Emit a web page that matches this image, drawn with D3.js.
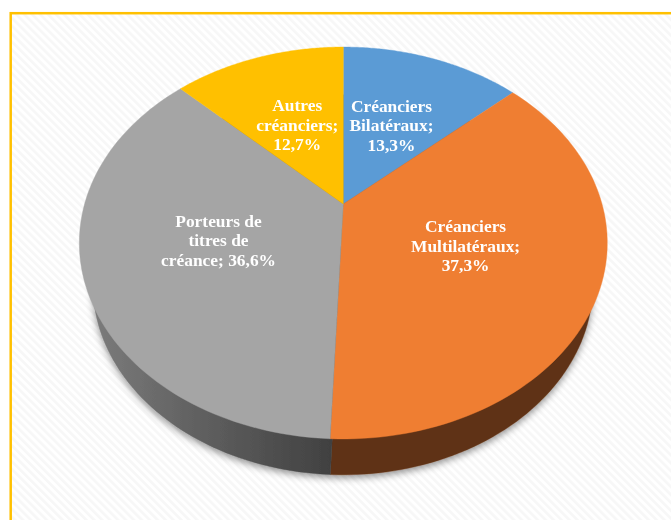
<!DOCTYPE html>
<html><head><meta charset="utf-8">
<script src="https://cdn.jsdelivr.net/npm/d3@7"></script>
<style>html,body{margin:0;padding:0;background:#fff;overflow:hidden}svg{display:block}</style>
</head><body><svg id="c" width="671" height="520"></svg>
<script>
const categories = ["Créanciers Bilatéraux","Créanciers Multilatéraux","Porteurs de titres de créance","Autres créanciers"];
const values = [13.3,37.3,36.6,12.7];
const labelLines = [["Créanciers","Bilatéraux;","13,3%"],["Créanciers","Multilatéraux;","37,3%"],["Porteurs de","titres de","créance; 36,6%"],["Autres","créanciers;","12,7%"]];
const topColors = ["#5b9bd5","#ef7e32","#a5a5a5","#ffc000"];
const wallColors = ["#35597a","#5f3113","url(#wallGrad)","#7f6000"];

const W=671,H=520;
const svg=d3.select("#c");
const defs=svg.append("defs");

const pat=defs.append("pattern").attr("id","stripes").attr("patternUnits","userSpaceOnUse")
  .attr("width",5.6).attr("height",5.6).attr("patternTransform","rotate(-45)");
pat.append("rect").attr("width",5.6).attr("height",5.6).attr("fill","#ffffff");
pat.append("rect").attr("width",2.6).attr("height",5.6).attr("fill","#f7f7f7");

const g=defs.append("linearGradient").attr("id","wallGrad").attr("gradientUnits","userSpaceOnUse")
  .attr("x1",90).attr("x2",331).attr("y1",0).attr("y2",0);
g.append("stop").attr("offset",0).attr("stop-color","#7c7c7c");
g.append("stop").attr("offset",0.45).attr("stop-color","#606060");
g.append("stop").attr("offset",1).attr("stop-color","#414141");

const sh=defs.append("filter").attr("id","shadow").attr("x","-10%").attr("y","-10%").attr("width","120%").attr("height","125%");
sh.append("feDropShadow").attr("dx",0).attr("dy",3).attr("stdDeviation",3.5).attr("flood-color","#000").attr("flood-opacity",0.42);
const soft=defs.append("filter").attr("id","soft").attr("x","-5%").attr("y","-5%").attr("width","110%").attr("height","110%");
soft.append("feGaussianBlur").attr("stdDeviation",0.35);

// Panel
svg.append("rect").attr("width",W).attr("height",H).attr("fill","#fff");
svg.append("rect").attr("x",10.7).attr("y",13.2).attr("width",W+20).attr("height",H+20)
  .attr("fill","url(#stripes)").attr("stroke","#ffc000").attr("stroke-width",2.5);

// Perspective projection of the unit disc onto the screen ellipse
const tilt=-0.199;
const project=(h)=>(u,v)=>{const d=1+tilt*v;return [h.cx+h.k*u/d,(h.a*v+h.b)/d];};
const topFace=project({cx:343.3,k:258.7,a:147.6,b:204});
const baseFace=project({cx:342.8,k:245,a:133.3,b:247});

const pie=d3.pie().sort(null).value(d=>d)(values);
const scaleAngle=(p,n)=>d3.range(n+1).map(i=>p.startAngle+(p.endAngle-p.startAngle)*i/n);
const slicePath=(face,p)=>{
  const pts=[face(0,0)].concat(scaleAngle(p,90).map(a=>face(Math.sin(a),-Math.cos(a))));
  return d3.line()(pts)+"Z";
};

svg.append("g").attr("filter","url(#shadow)").selectAll("path").data(pie).join("path")
  .attr("d",d=>slicePath(baseFace,d)).attr("fill",(d,i)=>wallColors[i]).attr("stroke",(d,i)=>wallColors[i]).attr("stroke-width",0.4);

svg.append("g").selectAll("path").data(pie).join("path")
  .attr("d",d=>slicePath(topFace,d)).attr("fill",(d,i)=>topColors[i]).attr("stroke",(d,i)=>topColors[i]).attr("stroke-width",0.4);

// Labels
const labelR=0.5, lineH=19.5;
const lab=svg.append("g").attr("filter","url(#soft)").attr("font-family","'Liberation Serif',serif").attr("font-weight","bold")
  .attr("font-size",17.4).attr("fill","#fff").attr("text-anchor","middle");
pie.forEach((p,i)=>{
  const m=(p.startAngle+p.endAngle)/2;
  const [x,y]=topFace(labelR*Math.sin(m),-labelR*Math.cos(m));
  const lines=labelLines[i];
  lab.append("text").attr("aria-label",categories[i]).selectAll("tspan").data(lines).join("tspan")
    .attr("x",x).attr("y",(d,j)=>y+(j-(lines.length-1)/2)*lineH+6).text(d=>d);
});
</script></body></html>
